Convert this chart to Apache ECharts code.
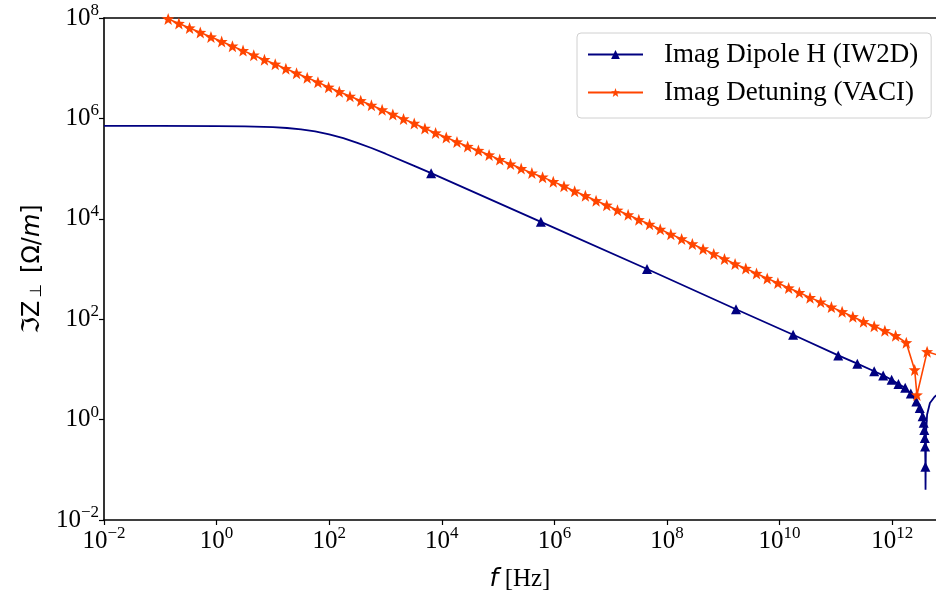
<!DOCTYPE html>
<html>
<head>
<meta charset="utf-8">
<script src="https://cdn.jsdelivr.net/npm/echarts@6/dist/echarts.min.js"></script>
<style>
  html, body { margin: 0; padding: 0; background: #fff; }
  #chart { width: 936px; height: 592px; }
</style>
</head>
<body>
<div id="chart"></div>
<script>
// Transverse impedance, imaginary part, versus frequency (log-log)

// Axis ranges
const xRange = [0.01, 6.0e12];
const yRange = [0.01, 1e8];

// Dipole H (IW2D): smooth-curve points (line only)
const dipoleCurveFreq = [0.01, 0.1, 1, 3.16, 10, 17.8, 31.6, 56.2, 100, 178, 316, 562, 1000, 3160,
  3.91e12, 3.98e12, 4.17e12, 4.68e12, 5.62e12, 6.31e12];
const dipoleCurveZ = [7.08e5, 7.07e5, 7.04e5, 6.95e5, 6.70e5, 6.44e5, 6.04e5, 5.49e5, 4.80e5, 4.03e5, 3.26e5, 2.57e5, 1.98e5, 1.15e5,
  0.040, 0.5, 1.26, 2.14, 2.82, 3.16];

// Dipole H (IW2D): marked samples
const dipoleMarkFreq = [6.46e3, 5.75e5, 4.42e7, 1.68e9, 1.74e10, 1.10e11, 2.40e11, 4.79e11, 6.92e11, 9.77e11,
  1.29e12, 1.70e12, 2.14e12, 2.69e12, 3.09e12, 3.47e12, 3.63e12, 3.72e12, 3.80e12, 3.85e12, 3.89e12];
const dipoleMarkZ = [8.1e4, 8.7e3, 1.0e3, 158, 49, 19, 13.0, 9.2, 7.6, 6.2,
  5.1, 4.3, 3.3, 2.3, 1.7, 1.17, 0.87, 0.62, 0.43, 0.29, 0.115];

// Detuning (VACI)
const detuningFreq = [0.01, 0.0155, 0.024, 0.0372, 0.0575, 0.0891, 0.138, 0.214, 0.331, 0.513, 0.794,
  1.23, 1.91, 2.95, 4.57, 7.08, 11.0, 17.0, 26.3, 40.7, 63.1, 97.7,
  151, 234, 363, 562, 871, 1350, 2090, 3240, 5010, 7760,
  1.20e4, 1.86e4, 2.88e4, 4.47e4, 6.92e4, 1.07e5, 1.66e5, 2.57e5, 3.98e5, 6.17e5, 9.55e5,
  1.48e6, 2.29e6, 3.55e6, 5.50e6, 8.51e6, 1.32e7, 2.04e7, 3.16e7, 4.90e7, 7.59e7,
  1.17e8, 1.82e8, 2.82e8, 4.37e8, 6.76e8, 1.05e9, 1.62e9, 2.51e9, 3.89e9, 6.03e9, 9.33e9,
  1.45e10, 2.24e10, 3.47e10, 5.37e10, 8.32e10, 1.29e11, 2.00e11, 3.09e11, 4.79e11, 7.41e11,
  1.15e12, 1.78e12, 2.51e12, 2.75e12, 4.17e12, 6.31e12];
const detuningZ = [3.31e8, 2.69e8, 2.19e8, 1.78e8, 1.45e8, 1.17e8, 9.55e7, 7.76e7, 6.31e7, 5.13e7, 4.17e7,
  3.39e7, 2.75e7, 2.24e7, 1.82e7, 1.48e7, 1.20e7, 9.77e6, 7.94e6, 6.46e6, 5.25e6, 4.17e6,
  3.39e6, 2.75e6, 2.24e6, 1.82e6, 1.48e6, 1.20e6, 9.77e5, 7.94e5, 6.31e5, 5.13e5,
  4.17e5, 3.39e5, 2.75e5, 2.29e5, 1.86e5, 1.51e5, 1.23e5, 1.00e5, 8.13e4, 6.76e4, 5.50e4,
  4.47e4, 3.55e4, 2.88e4, 2.29e4, 1.86e4, 1.48e4, 1.20e4, 9550, 7760, 6170,
  4900, 3980, 3160, 2510, 2000, 1580, 1260, 1020, 813, 646, 525,
  417, 339, 269, 219, 174, 141, 112, 89.1, 72.4, 58.9,
  46.8, 33.9, 9.77, 3.09, 22.4, 19.5];

const seriesNames = ['Imag Dipole H (IW2D)', 'Imag Detuning (VACI)'];
const colors = ['#000080', '#ff4500'];

const STAR = 'path://M50,0 L62,33 L98,34 L70,56 L80,92 L50,71 L20,92 L30,56 L2,34 L38,33 Z';

// merge line-only points and marked samples, ordered by frequency
const dipoleData = dipoleCurveFreq.map((f, i) => ({ value: [f, dipoleCurveZ[i]], symbol: 'none' }))
  .concat(dipoleMarkFreq.map((f, i) => ({ value: [f, dipoleMarkZ[i]] })))
  .sort((a, b) => a.value[0] - b.value[0]);
const detuningData = detuningFreq.map((f, i) => [f, detuningZ[i]]);

const SERIF = '"Liberation Serif", "DejaVu Serif", serif';
const SANS = '"DejaVu Sans", sans-serif';

function powLabel(v) {
  const e = Math.round(Math.log10(v));
  const s = (e < 0 ? '\u2212' + (-e) : String(e));
  return '{b|10}{s|' + s + '}';
}
const tickRich = {
  b: { fontFamily: SERIF, fontSize: 25, color: '#000' },
  s: { fontFamily: SERIF, fontSize: 17, color: '#000', padding: [0, 0, 15, 0] }
};

const chart = echarts.init(document.getElementById('chart'), null, { renderer: 'canvas' });
chart.setOption({
  animation: false,
  backgroundColor: '#fff',
  grid: { left: 104, right: 0, top: 18, bottom: 72, containLabel: false, outerBoundsMode: 'none' },
  legend: {
    orient: 'vertical',
    left: 577, top: 33,
    data: seriesNames,
    itemWidth: 55, itemHeight: 11, itemGap: 11,
    padding: [8, 13, 12, 10],
    borderColor: '#d0d0d0', borderWidth: 1, borderRadius: 4,
    backgroundColor: '#fff',
    textStyle: { fontFamily: SERIF, fontSize: 27, color: '#000', padding: [0, 0, 0, 16], lineHeight: 27 }
  },
  xAxis: [{
    type: 'log', logBase: 10, min: xRange[0], max: xRange[1], interval: 2,
    name: '{i|f}{r|\u00a0[Hz]}', nameLocation: 'middle', nameGap: 47,
    nameTextStyle: { rich: {
      i: { fontFamily: SANS, fontStyle: 'italic', fontSize: 25, color: '#000' },
      r: { fontFamily: SERIF, fontSize: 25, color: '#000' }
    } },
    axisLine: { show: true, lineStyle: { color: '#000', width: 1.6 } },
    axisTick: { show: true, length: 5, lineStyle: { color: '#000', width: 1.2 } },
    axisLabel: { formatter: powLabel, rich: tickRich, margin: 5, showMaxLabel: false },
    splitLine: { show: false }, minorTick: { show: false }
  }, {
    type: 'log', logBase: 10, min: xRange[0], max: xRange[1], position: 'top',
    axisLine: { show: true, lineStyle: { color: '#000', width: 1.6 } },
    axisTick: { show: false }, axisLabel: { show: false }, splitLine: { show: false }
  }],
  yAxis: {
    type: 'log', logBase: 10, min: yRange[0], max: yRange[1], interval: 2,
    name: '{a|\u2111Z}{s|\u22a5}{a| [\u03a9/}{i|m}{a|]}', nameLocation: 'middle', nameGap: 59, nameRotate: 90,
    nameTextStyle: { rich: {
      a: { fontFamily: SANS, fontSize: 24, color: '#000' },
      i: { fontFamily: SANS, fontStyle: 'italic', fontSize: 24, color: '#000' },
      s: { fontFamily: SANS, fontSize: 16, color: '#000', padding: [9, 3, 0, 3] }
    } },
    axisLine: { show: true, lineStyle: { color: '#000', width: 1.6 } },
    axisTick: { show: true, length: 5, lineStyle: { color: '#000', width: 1.2 } },
    axisLabel: { formatter: powLabel, rich: tickRich, margin: 5 },
    splitLine: { show: false }, minorTick: { show: false }
  },
  series: [{
    name: seriesNames[0], type: 'line', xAxisIndex: 0, data: dipoleData,
    symbol: 'triangle', symbolSize: 10, showAllSymbol: true, clip: true,
    lineStyle: { color: colors[0], width: 1.8 },
    itemStyle: { color: colors[0] }, z: 2
  }, {
    name: seriesNames[1], type: 'line', xAxisIndex: 0, data: detuningData,
    symbol: STAR, symbolSize: 12, showAllSymbol: true, clip: true,
    lineStyle: { color: colors[1], width: 1.6 },
    itemStyle: { color: colors[1] }, z: 3
  }]
});
</script>
</body>
</html>
